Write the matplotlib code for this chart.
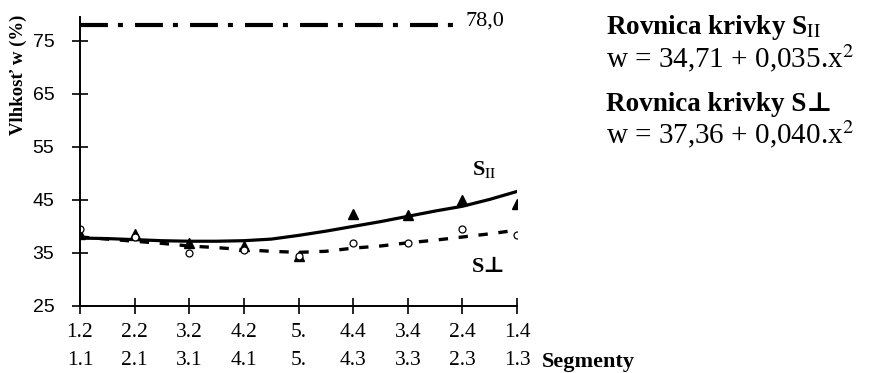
import matplotlib.pyplot as plt

plt.rcParams["mathtext.fontset"] = "stix"

# Segmenty (dva riadky popisov)
seg_top = ["1.2", "2.2", "3.2", "4.2", "5.", "4.4", "3.4", "2.4", "1.4"]
seg_bottom = ["1.1", "2.1", "3.1", "4.1", "5.", "4.3", "3.3", "2.3", "1.3"]
pos = list(range(len(seg_top)))

# namerane hodnoty vlhkosti
w_par = [38.5, 38.5, 36.9, 36.3, 34.5, 42.4, 42.1, 45.0, 44.3]
w_perp = [39.5, 38.0, 35.0, 35.5, 34.5, 36.8, 36.9, 39.5, 38.4]

# vyrovnavacie krivky (odcitane z obrazku, polkrokove body)
curve_pos = [0, 0.5, 1, 1.5, 2, 2.5, 3, 3.5, 4, 4.5, 5, 5.5, 6, 6.5, 7, 7.5, 8]
curve_par = [37.8, 37.7, 37.5, 37.3, 37.2, 37.2, 37.3, 37.6, 38.3, 39.1,
             40.0, 40.9, 41.9, 42.9, 43.8, 45.1, 46.6]
curve_perp = [38.0, 37.6, 37.2, 36.8, 36.3, 36.0, 35.6, 35.3, 35.1, 35.3,
              35.9, 36.3, 36.9, 37.4, 38.0, 38.6, 39.3]

limit_val = 78.0
yticks = [25, 35, 45, 55, 65, 75]

fig = plt.figure(figsize=(8.69, 3.73), dpi=100)
ax = fig.add_axes([0.092, 0.18, 0.503, 0.774])

ax.plot(curve_pos, curve_par, color="black", linewidth=2.3)
ax.plot(curve_pos, curve_perp, color="black", linewidth=2.4, linestyle=(0, (2.8, 3.2)))
ax.plot(pos, w_par, linestyle="none", marker="^", color="black", markersize=6.5)
ax.plot(pos, w_perp, linestyle="none", marker="o", markerfacecolor="white",
        markeredgecolor="black", markersize=5, markeredgewidth=0.9)

ax.plot([0, 7.0], [limit_val, limit_val], color="black", linewidth=3,
        linestyle=(0, (6.7, 2.4, 1.2, 2.9)))
ax.text(7.05, limit_val + 0.8, "78,0", fontsize=16, family="Liberation Serif",
        va="center", ha="left")

ax.set_xlim(0, 8)
ax.set_ylim(25, 79.5)
ax.set_yticks(yticks)
ax.set_yticklabels([str(v) for v in yticks],
                   family=["Liberation Sans Narrow", "Liberation Sans"], fontsize=14)
ax.set_xticks(pos)
ax.set_xticklabels([f"{a}\n{b}" for a, b in zip(seg_top, seg_bottom)],
                   family="Liberation Serif", fontsize=15.5, linespacing=1.65)
ax.tick_params(axis="both", direction="inout", length=11, width=1.2, colors="black")
ax.tick_params(axis="y", pad=13)
ax.tick_params(axis="x", pad=7)

for s in ["top", "right"]:
    ax.spines[s].set_visible(False)
for s in ["left", "bottom"]:
    ax.spines[s].set_linewidth(1.4)

ax.set_ylabel("Vlhkosť w (%)", fontsize=13.5, fontweight="bold",
              family="Liberation Serif")
ax.yaxis.set_label_coords(-0.122, 0.80)

fig.text(0.624, 6 / 373, "Segmenty", fontsize=16, fontweight="bold",
         family="Liberation Serif", va="baseline")

ax.text(7.18, 49.7, r"S$_{\mathrm{II}}$", fontsize=16, fontweight="bold",
        family="Liberation Serif", ha="left", va="baseline")
ax.text(7.18, 31.4, "S⊥", fontsize=16, fontweight="bold",
        family=["Liberation Serif", "DejaVu Serif"], ha="left", va="baseline")

fig.text(0.697, 1 - 34 / 373, r"Rovnica krivky S$_{\mathrm{II}}$", fontsize=19.5,
         fontweight="bold", family="Liberation Serif", va="baseline")
fig.text(0.697, 1 - 67 / 373, "w = 34,71 + 0,035.x$^{2}$", fontsize=21,
         family="Liberation Serif", va="baseline")
fig.text(0.697, 1 - 111 / 373, "Rovnica krivky S⊥", fontsize=19.5, fontweight="bold",
         family=["Liberation Serif", "DejaVu Serif"], va="baseline")
fig.text(0.697, 1 - 143 / 373, "w = 37,36 + 0,040.x$^{2}$", fontsize=21,
         family="Liberation Serif", va="baseline")

fig.savefig("out.png", dpi=100)
